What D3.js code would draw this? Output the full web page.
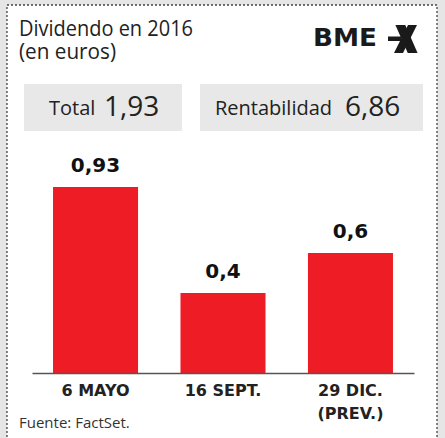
<!DOCTYPE html>
<html>
<head>
<meta charset="utf-8">
<script src="https://cdn.jsdelivr.net/npm/d3@7"></script>
<style>
  body { margin: 0; background: #e6e6e6; }
  svg { display: block; }
</style>
</head>
<body>
<script>
// data
var categories = ["6 MAYO", "16 SEPT.", "29 DIC.\n(PREV.)"];
var values = [0.93, 0.4, 0.6];
var valueLabels = ["0,93", "0,4", "0,6"];
var summaryLabels = ["Total", "Rentabilidad"];
var summaryValues = ["1,93", "6,86"];

var W = 445, H = 438;
var svg = d3.select("body").append("svg")
  .attr("width", W).attr("height", H);

/***Frame***/
svg.append("rect").attr("x", 0).attr("y", 0).attr("width", W).attr("height", H).attr("fill", "#e6e6e6");
svg.append("rect")
  .attr("x", 7).attr("y", 5).attr("width", 430).attr("height", 450)
  .attr("fill", "#fff")
  .attr("stroke", "#444").attr("stroke-width", 1.3)
  .attr("stroke-dasharray", "2,2");

var font = "'Open Sans', 'Noto Sans', sans-serif";
var boldFont = "'DejaVu Sans', Verdana, sans-serif";

/***Title***/
svg.append("text").attr("x", 19).attr("y", 36)
  .attr("font-family", font).attr("font-size", 21).attr("fill", "#222")
  .attr("textLength", 174).attr("lengthAdjust", "spacingAndGlyphs")
  .text("Dividendo en 2016");
svg.append("text").attr("x", 19).attr("y", 59)
  .attr("font-family", font).attr("font-size", 21).attr("fill", "#222")
  .attr("textLength", 97).attr("lengthAdjust", "spacingAndGlyphs")
  .text("(en euros)");

/***Logo***/
var defs = svg.append("defs");
defs.append("clipPath").attr("id", "xclip")
  .append("rect").attr("x", 385).attr("y", 25).attr("width", 40).attr("height", 28);
var logo = svg.append("g");
logo.append("text").attr("x", 313).attr("y", 46)
  .attr("font-family", boldFont).attr("font-weight", "bold")
  .attr("font-size", 25).attr("textLength", 64).attr("lengthAdjust", "spacingAndGlyphs")
  .attr("fill", "#1a1a1a").text("BME");
var xg = logo.append("g").attr("clip-path", "url(#xclip)");
xg.append("line").attr("x1", 399).attr("y1", 22).attr("x2", 414).attr("y2", 56)
  .attr("stroke", "#1a1a1a").attr("stroke-width", 9);
xg.append("line").attr("x1", 414).attr("y1", 22).attr("x2", 397).attr("y2", 56)
  .attr("stroke", "#1a1a1a").attr("stroke-width", 8);
logo.append("rect").attr("x", 388).attr("y", 36.5).attr("width", 13).attr("height", 4.5)
  .attr("fill", "#1a1a1a");

/***Summary boxes***/
var boxes = [{x: 24, w: 158, lx: 49, vx: 104}, {x: 200, w: 223, lx: 215, vx: 345}];
boxes.forEach(function(b, i) {
  svg.append("rect").attr("x", b.x).attr("y", 84).attr("width", b.w).attr("height", 47)
    .attr("fill", "#e8e8e8");
  svg.append("text").attr("x", b.lx).attr("y", 115)
    .attr("font-family", font).attr("font-size", 20).attr("fill", "#222")
    .text(summaryLabels[i]);
  svg.append("text").attr("x", b.vx).attr("y", 116)
    .attr("font-family", font).attr("font-size", 28).attr("fill", "#222")
    .text(summaryValues[i]);
});

/***Scales***/
var xScale = d3.scaleBand()
  .domain(categories)
  .range([32, 414])
  .paddingInner(0.333)
  .paddingOuter(0.165);
var yScale = d3.scaleLinear()
  .domain([0, 1])
  .range([373, 173]);

/***Bars***/
svg.selectAll("rect.bar")
  .data(values)
  .enter().append("rect")
  .attr("class", "bar")
  .attr("x", function(d, i) { return xScale(categories[i]); })
  .attr("width", xScale.bandwidth())
  .attr("y", function(d) { return yScale(d); })
  .attr("height", function(d) { return yScale(0) - yScale(d); })
  .attr("fill", "#ee1c25");

svg.selectAll("text.val")
  .data(values)
  .enter().append("text")
  .attr("class", "val")
  .attr("x", function(d, i) { return xScale(categories[i]) + xScale.bandwidth() / 2; })
  .attr("y", function(d) { return yScale(d) - 15; })
  .attr("text-anchor", "middle")
  .attr("font-family", boldFont).attr("font-weight", "bold")
  .attr("font-size", 20).attr("fill", "#111")
  .text(function(d, i) { return valueLabels[i]; });

/***Axis***/
var xAxis = d3.axisBottom(xScale).tickSize(0).tickPadding(0);
var gx = svg.append("g")
  .attr("transform", "translate(0," + yScale(0) + ")")
  .call(xAxis);
gx.select(".domain").attr("stroke", "#555").attr("stroke-width", 1.5);
gx.selectAll(".tick text").remove();
gx.selectAll(".tick").each(function(d) {
  var t = d3.select(this).append("text")
    .attr("text-anchor", "middle")
    .attr("font-family", boldFont).attr("font-weight", "bold")
    .attr("font-size", 16).attr("fill", "#222");
  d.split("\n").forEach(function(line, j) {
    t.append("tspan").attr("x", 0).attr("y", 23 + j * 23).text(line);
  });
});

/***Source***/
svg.append("text").attr("x", 19).attr("y", 428)
  .attr("font-family", font).attr("font-size", 15).attr("fill", "#333")
  .text("Fuente: FactSet.");
</script>
</body>
</html>
